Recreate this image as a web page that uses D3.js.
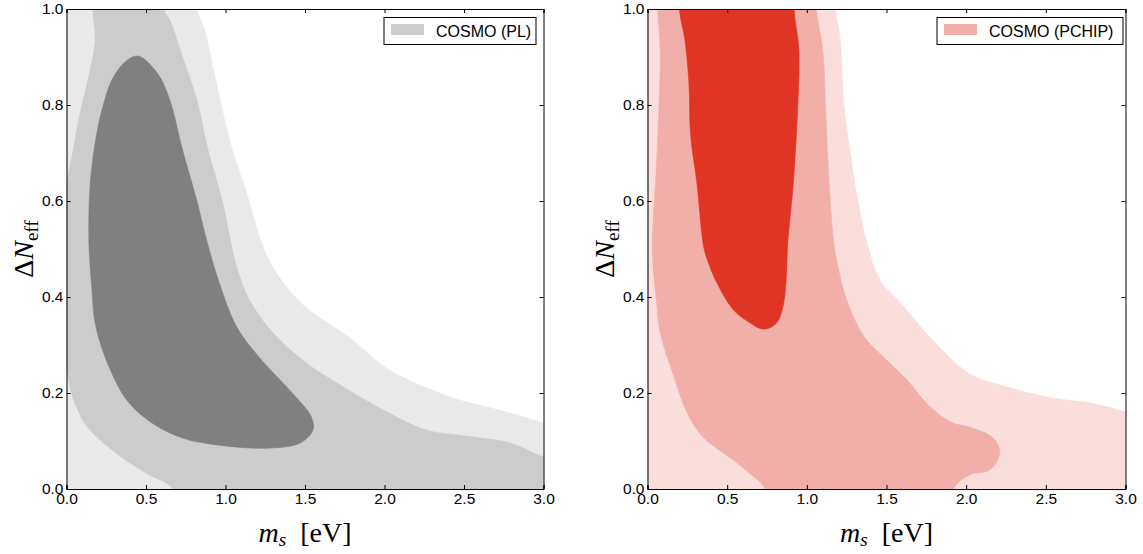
<!DOCTYPE html>
<html>
<head>
<meta charset="utf-8">
<script src="https://cdn.jsdelivr.net/npm/d3@7"></script>
<style>
  body { margin: 0; background: #fff; }
  text { font-family: "Liberation Sans", Arial, sans-serif; }
</style>
</head>
<body>
<svg id="chart" width="1143" height="554"></svg>
<script>
// tick values / labels
var xTicks = [0, 0.5, 1.0, 1.5, 2.0, 2.5, 3.0];
var yTicks = [0, 0.2, 0.4, 0.6, 0.8, 1.0];
var legendLabels = ["COSMO (PL)", "COSMO (PCHIP)"];

// contour outlines, [m_s, dNeff]
// points outside [0,3]x[0,1] are only there so the clip box cuts clean edges
var plOuter = [[-0.2,-0.2],[-0.2,1.2],[0.78,1.15],[0.82,1.0],[0.87,0.955],[0.92,0.88],[0.98,0.79],[1.04,0.71],[1.13,0.62],
  [1.23,0.51],[1.32,0.45],[1.50,0.38],[1.78,0.315],[2.03,0.248],[2.43,0.19],[2.68,0.168],[3.0,0.137],[3.2,0.11],[3.2,-0.2]];
var plMid = [[0.16,1.15],[0.165,1.0],[0.18,0.935],[0.145,0.867],[0.08,0.775],[0.03,0.685],[0.0,0.64],[-0.1,0.55],[-0.1,0.3],
  [0.0,0.245],[0.04,0.19],[0.13,0.13],[0.31,0.075],[0.50,0.033],[0.67,0.0],[0.75,-0.1],[3.2,-0.1],[3.2,0.05],[3.0,0.067],
  [2.79,0.096],[2.47,0.112],[2.26,0.123],[1.99,0.165],[1.74,0.213],[1.51,0.262],[1.30,0.325],[1.15,0.394],[1.07,0.463],
  [1.03,0.519],[0.98,0.60],[0.89,0.706],[0.82,0.81],[0.73,0.90],[0.65,0.977],[0.61,1.0],[0.58,1.15]];
var plInner = [[0.45,0.902],[0.57,0.867],[0.65,0.81],[0.73,0.706],[0.82,0.60],[0.88,0.52],[0.96,0.43],[1.07,0.338],[1.21,0.275],
  [1.42,0.20],[1.54,0.15],[1.55,0.123],[1.47,0.096],[1.26,0.085],[0.90,0.094],[0.73,0.106],[0.54,0.137],[0.38,0.185],
  [0.25,0.269],[0.18,0.346],[0.16,0.415],[0.145,0.483],[0.14,0.533],[0.15,0.64],[0.19,0.74],[0.24,0.81],[0.29,0.855],[0.37,0.89]];

var pcOuter = [[-0.2,-0.2],[-0.2,1.2],[1.17,1.15],[1.18,1.0],[1.21,0.935],[1.23,0.81],[1.27,0.706],[1.32,0.60],[1.38,0.51],
  [1.46,0.435],[1.59,0.387],[1.77,0.317],[2.02,0.24],[2.21,0.217],[2.53,0.19],[2.78,0.179],[3.0,0.16],[3.2,0.13],[3.2,-0.2]];
var pcMid = [[0.065,1.15],[0.065,1.0],[0.08,0.915],[0.07,0.775],[0.05,0.637],[0.03,0.50],[0.06,0.38],[0.08,0.325],[0.16,0.24],
  [0.25,0.158],[0.35,0.108],[0.54,0.06],[0.64,0.033],[0.74,0.0],[0.78,-0.1],[1.88,-0.1],[1.92,0.0],[2.02,0.029],[2.15,0.04],
  [2.21,0.075],[2.17,0.106],[2.04,0.127],[1.90,0.14],[1.75,0.179],[1.63,0.227],[1.50,0.269],[1.36,0.317],[1.25,0.394],
  [1.20,0.456],[1.17,0.51],[1.14,0.637],[1.12,0.775],[1.10,0.915],[1.06,1.0],[1.05,1.15]];
var pcInner = [[0.20,1.15],[0.92,1.15],[0.92,1.0],[0.95,0.915],[0.94,0.775],[0.915,0.637],[0.88,0.51],[0.87,0.435],[0.85,0.38],
  [0.81,0.346],[0.73,0.333],[0.645,0.346],[0.54,0.373],[0.435,0.43],[0.37,0.483],[0.35,0.51],[0.31,0.637],[0.27,0.74],
  [0.26,0.846],[0.235,0.935],[0.20,1.0]];

var svg = d3.select("#chart");
var plotTop = 9, plotBottom = 489;

var panels = [
  { left: 66.5, right: 543.5, levels: [plOuter, plMid, plInner], colors: ["#e9e9e9", "#cccccc", "#808080"], label: legendLabels[0],
    legend: { x: 384, w: 152 } },
  { left: 647.5, right: 1125.5, levels: [pcOuter, pcMid, pcInner], colors: ["#fadedc", "#f2aea8", "#e03424"], label: legendLabels[1],
    legend: { x: 937, w: 186 } }
];

panels.forEach(function(p, i) {
  var x = d3.scaleLinear().domain([0, 3]).range([p.left, p.right]);
  var y = d3.scaleLinear().domain([0, 1]).range([plotBottom, plotTop]);

  svg.append("clipPath").attr("id", "clip" + i)
    .append("rect").attr("x", p.left).attr("y", plotTop)
    .attr("width", p.right - p.left).attr("height", plotBottom - plotTop);

  var area = d3.line()
    .x(d => x(d[0])).y(d => y(d[1]))
    .curve(d3.curveCatmullRomClosed.alpha(0.5));

  svg.append("g").attr("clip-path", "url(#clip" + i + ")")
    .selectAll("path")
    .data(p.levels).enter()
    .append("path")
    .attr("d", area)
    .style("fill", (d, j) => p.colors[j])
    .style("stroke", (d, j) => p.colors[j])
    .style("stroke-width", 0.6);

  // axes, inward ticks on all four sides
  var fmt = d3.format(".1f");
  svg.append("g").attr("transform", "translate(0," + plotBottom + ")")
    .call(d3.axisBottom(x).tickValues(xTicks).tickFormat(fmt).tickSize(-4).tickPadding(4));
  svg.append("g").attr("transform", "translate(0," + plotTop + ")")
    .call(d3.axisTop(x).tickValues(xTicks).tickFormat("").tickSize(-4));
  svg.append("g").attr("transform", "translate(" + p.left + ",0)")
    .call(d3.axisLeft(y).tickValues(yTicks).tickFormat(fmt).tickSize(-4).tickPadding(3));
  svg.append("g").attr("transform", "translate(" + p.right + ",0)")
    .call(d3.axisRight(y).tickValues(yTicks).tickFormat("").tickSize(-4));

  // legend
  var lg = svg.append("g");
  lg.append("rect").attr("x", p.legend.x).attr("y", 17.5).attr("width", p.legend.w).attr("height", 27)
    .style("fill", "#fff").style("stroke", "#000").style("stroke-width", 1);
  lg.append("rect").attr("x", p.legend.x + 7).attr("y", 24).attr("width", 33).attr("height", 11)
    .style("fill", p.colors[1]);
  lg.append("text").attr("x", p.legend.x + 52).attr("y", 36.5)
    .style("font-size", "16px").text(p.label);

  // axis labels
  var cx = (p.left + p.right) / 2;
  var xl = svg.append("text").attr("x", cx).attr("y", 542).attr("text-anchor", "middle")
    .style("font-family", "'Liberation Serif', 'DejaVu Serif', serif").style("font-size", "28px");
  xl.append("tspan").style("font-style", "italic").text("m");
  xl.append("tspan").style("font-style", "italic").style("font-size", "19px").attr("dy", 4).text("s");
  xl.append("tspan").attr("dy", -4).text("\u2002[eV]");

  var yl = svg.append("text")
    .attr("transform", "translate(" + (p.left - 34) + "," + 249 + ") rotate(-90)")
    .attr("text-anchor", "middle")
    .style("font-family", "'Liberation Serif', 'DejaVu Serif', serif").style("font-size", "28px");
  yl.append("tspan").text("\u0394");
  yl.append("tspan").style("font-style", "italic").text("N");
  yl.append("tspan").style("font-size", "19px").attr("dy", 5).text("eff");
});

svg.selectAll(".domain").attr("stroke", "#000");
svg.selectAll(".tick line").attr("stroke", "#000");
svg.selectAll(".tick text").attr("fill", "#000")
  .style("font-size", "15.5px").style("font-family", "'Liberation Sans', Arial, sans-serif");
</script>
</body>
</html>
